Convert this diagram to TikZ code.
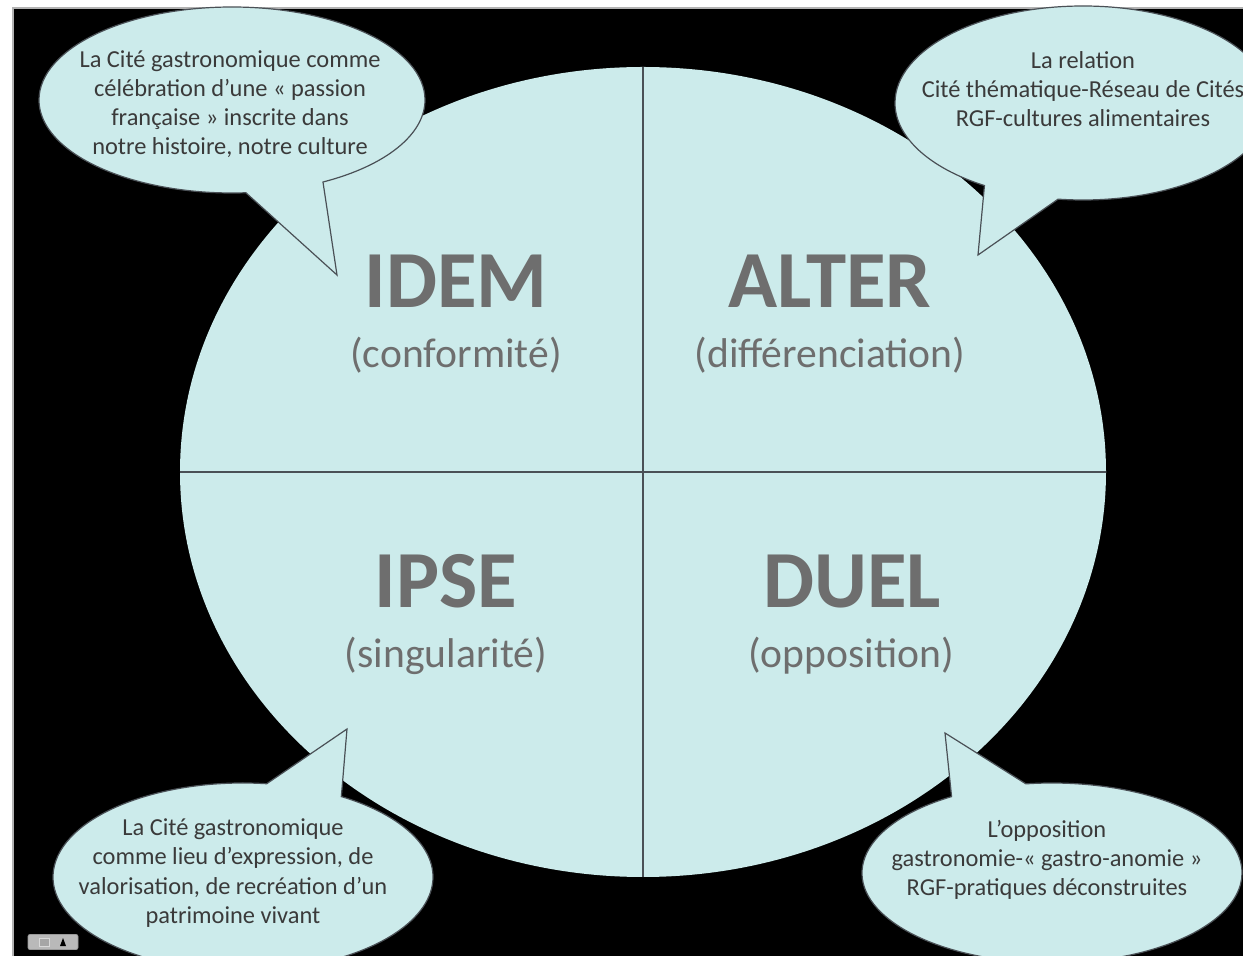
\documentclass[tikz,border=0pt]{standalone}
\usepackage{fontspec}
\setmainfont{Carlito}
\usetikzlibrary{shapes.geometric,shapes.callouts}
\definecolor{paleteal}{HTML}{CCEBEB}
\definecolor{labelgray}{HTML}{6E6E6E}
\definecolor{textgray}{HTML}{3A3A3A}
\definecolor{edgegray}{HTML}{4A5056}
\tikzset{
  quarter/.style={anchor=base, text=labelgray, font=\fontsize{40.5}{44}\selectfont\bfseries},
  sublabel/.style={anchor=base, text=labelgray, font=\fontsize{20.8}{24}\selectfont},
  bubble/.style={ellipse callout, fill=paleteal, draw=edgegray, line width=0.6pt, inner sep=0pt, callout pointer arc=24},
  bubbletext/.style={text=textgray, align=center, font=\fontsize{12.2}{14.6}\selectfont, inner sep=0pt},
}

\begin{document}
\begin{tikzpicture}[x=0.5pt,y=-0.5pt]
\useasboundingbox (0,0) rectangle (1243,956);
\clip (0,0) rectangle (1243,956);
\fill[white] (0,0) rectangle (1243,956);
\fill[black] (13,8) rectangle (1243,956);
\draw[gray!60, line width=0.8pt] (13,956) -- (13,8) -- (1243,8);

\node[ellipse, fill=paleteal, minimum width=463pt, minimum height=405pt, inner sep=0pt] (disc) at (643,472) {};
\draw[edgegray, line width=0.8pt] (disc.north) -- (disc.south);
\draw[edgegray, line width=0.8pt] (disc.west) -- (disc.east);

\node[quarter] (idem) at (456,308) {IDEM};
\node[sublabel] (idemsub) at (456,368) {(conformité)};
\node[quarter] (alter) at (830,308) {ALTER};
\node[sublabel] (altersub) at (830,368) {(différenciation)};
\node[quarter] (ipse) at (446,608) {IPSE};
\node[sublabel] (ipsesub) at (446,668) {(singularité)};
\node[quarter] (duel) at (852,608) {DUEL};
\node[sublabel] (duelsub) at (851,668) {(opposition)};

\node[bubble, minimum width=193pt, minimum height=93pt, callout absolute pointer={(337,275)}] (idemcall) at (232,100) {};
\node[bubbletext] (idemtxt) at (230,104) {La Cité gastronomique comme\\célébration d’une « passion\\française » inscrite dans\\notre histoire, notre culture};
\node[bubble, minimum width=188pt, minimum height=97pt, callout absolute pointer={(978,255)}] (altercall) at (1083,103) {};
\node[bubbletext] (altertxt) at (1083,89) {La relation\\Cité thématique-Réseau de Cités\\RGF-cultures alimentaires};
\node[bubble, minimum width=190pt, minimum height=94pt, callout absolute pointer={(347,729)}] (ipsecall) at (243,877) {};
\node[bubbletext] (ipsetxt) at (233,873) {La Cité gastronomique\\comme lieu d’expression, de\\valorisation, de recréation d’un\\patrimoine vivant};
\node[bubble, minimum width=190pt, minimum height=90pt, callout absolute pointer={(945,733)}] (duelcall) at (1052,873) {};
\node[bubbletext] (dueltxt) at (1047,860) {L’opposition\\gastronomie-« gastro-anomie »\\RGF-pratiques déconstruites};

\node[draw=gray!80, fill=gray!55, rounded corners=1pt, minimum width=25pt, minimum height=7.5pt, inner sep=0pt] (ctrl) at (53,942) {};
\draw[gray!30, fill=gray!70] (39,938) rectangle (49,946);
\fill[black] (60,946) -- (63,938) -- (66,946) -- cycle;
\end{tikzpicture}
\end{document}
